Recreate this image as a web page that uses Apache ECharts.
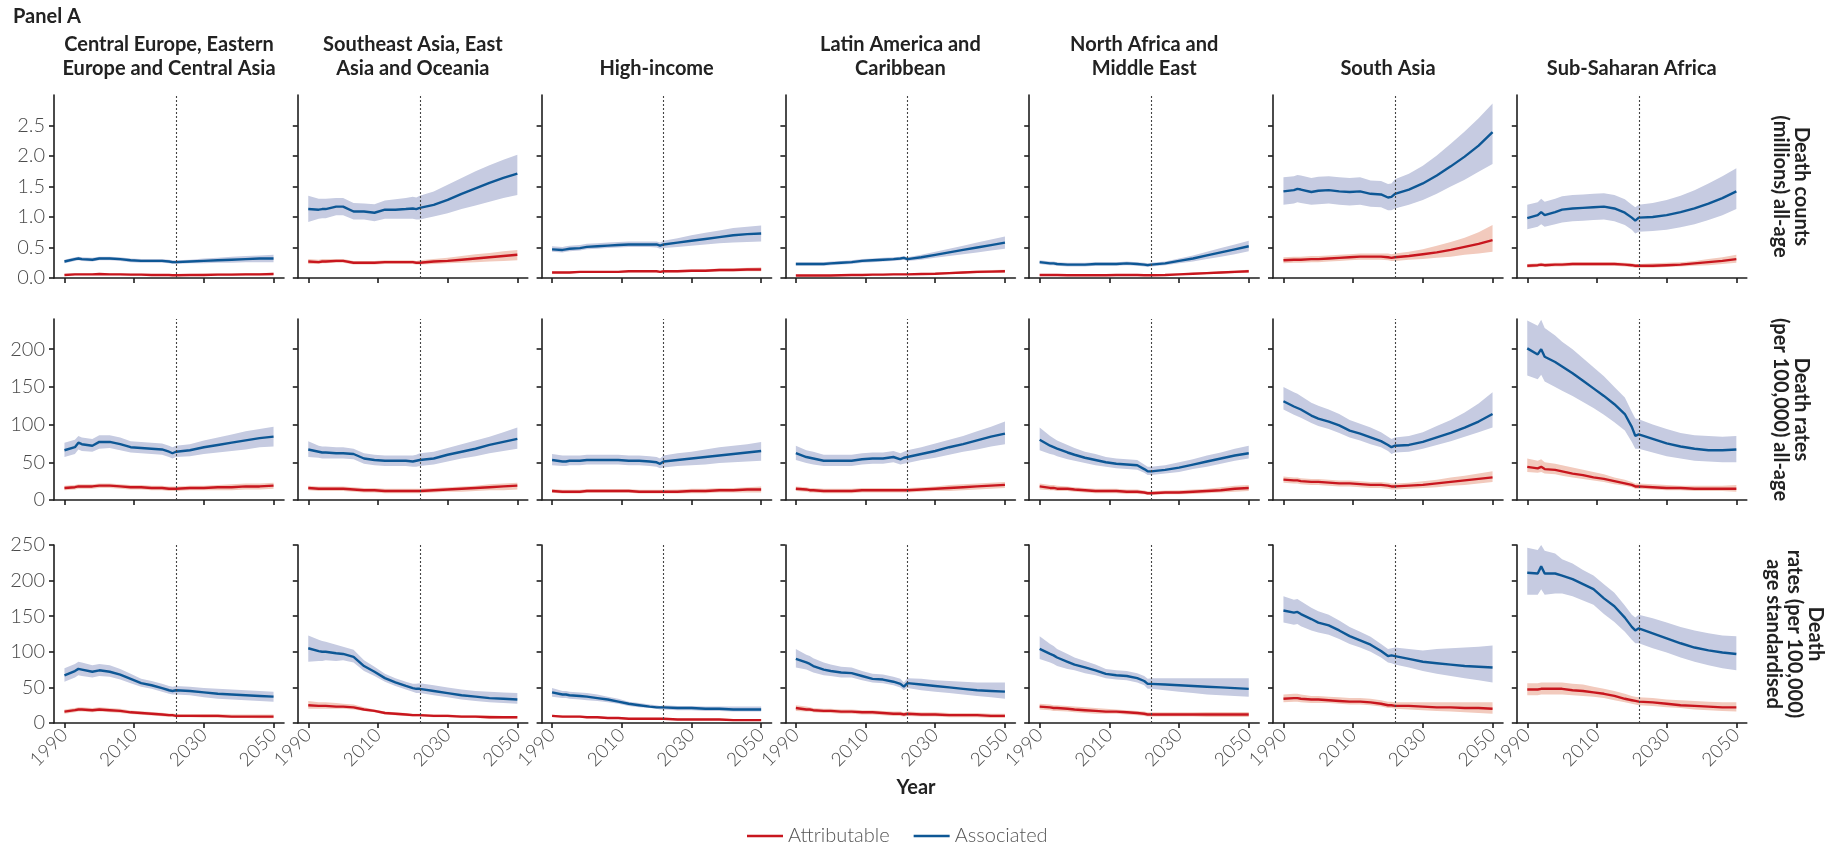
<!DOCTYPE html>
<html><head><meta charset="utf-8">
<script src="https://cdn.jsdelivr.net/npm/echarts@6/dist/echarts.min.js"></script>
<style>html,body{margin:0;padding:0;background:#fff}#c{width:1837px;height:845px}</style>
</head><body><div id="c"></div>
<script>
// ---------------- DATA ----------------
const years = [1990,1993,1994,1995,1998,2000,2003,2006,2009,2012,2015,2018,2020,2021,2022,2026,2030,2034,2038,2042,2046,2050];
const forecastYear = 2022;
const regions = ['Central Europe, Eastern\nEurope and Central Asia','Southeast Asia, East\nAsia and Oceania','High-income','Latin America and\nCaribbean','North Africa and\nMiddle East','South Asia','Sub-Saharan Africa'];
const measureLabels = ['Death counts\n(millions) all-age','Death rates\n(per 100,000) all-age','Death\nrates (per 100,000)\nage standardised'];
const seriesNames = ['Attributable','Associated'];
const xTicks = [1990,2010,2030,2050];
const yTicksCount = [0,0.5,1,1.5,2,2.5];
const yTicksRate = [0,50,100,150,200];
const yTicksAsr = [0,50,100,150,200,250];
const yMaxByRow = [3,240,250];
const xAxisTitle = 'Year';
const panelTitle = 'Panel A';

// Row 1: death counts (millions), all-age
const countAssocMid = [
 [0.27,0.31,0.32,0.31,0.30,0.32,0.32,0.31,0.29,0.28,0.28,0.28,0.27,0.26,0.26,0.27,0.28,0.29,0.30,0.31,0.32,0.32],
 [1.13,1.12,1.13,1.13,1.17,1.17,1.09,1.09,1.07,1.12,1.12,1.13,1.14,1.13,1.15,1.20,1.28,1.38,1.47,1.56,1.64,1.71],
 [0.47,0.46,0.47,0.48,0.49,0.51,0.52,0.53,0.54,0.55,0.55,0.55,0.55,0.53,0.55,0.58,0.61,0.64,0.67,0.70,0.72,0.73],
 [0.23,0.23,0.23,0.23,0.23,0.24,0.25,0.26,0.28,0.29,0.30,0.31,0.32,0.33,0.31,0.34,0.38,0.42,0.46,0.50,0.54,0.58],
 [0.26,0.24,0.24,0.23,0.22,0.22,0.22,0.23,0.23,0.23,0.24,0.23,0.22,0.21,0.22,0.24,0.28,0.32,0.37,0.42,0.47,0.52],
 [1.42,1.44,1.46,1.45,1.41,1.43,1.44,1.42,1.41,1.42,1.38,1.37,1.32,1.33,1.38,1.45,1.55,1.68,1.83,1.99,2.17,2.39],
 [0.98,1.03,1.08,1.03,1.08,1.12,1.14,1.15,1.16,1.17,1.14,1.07,0.99,0.94,0.99,1.00,1.03,1.08,1.14,1.22,1.31,1.42]
];
const countAssocLo = [
 [0.24,0.28,0.29,0.28,0.27,0.29,0.29,0.28,0.26,0.25,0.25,0.25,0.24,0.23,0.23,0.24,0.24,0.25,0.25,0.26,0.26,0.26],
 [0.92,0.97,0.98,0.98,1.03,1.03,0.96,0.96,0.93,0.97,0.97,0.97,0.97,0.96,0.96,1.01,1.06,1.13,1.19,1.25,1.31,1.36],
 [0.43,0.42,0.43,0.44,0.45,0.47,0.48,0.49,0.50,0.51,0.51,0.51,0.50,0.48,0.49,0.51,0.53,0.55,0.57,0.58,0.59,0.60],
 [0.20,0.20,0.20,0.20,0.20,0.21,0.22,0.23,0.25,0.26,0.27,0.28,0.29,0.30,0.28,0.30,0.33,0.36,0.39,0.42,0.45,0.48],
 [0.23,0.21,0.21,0.20,0.19,0.19,0.19,0.20,0.20,0.20,0.21,0.20,0.19,0.18,0.19,0.21,0.24,0.27,0.31,0.35,0.39,0.44],
 [1.20,1.22,1.24,1.23,1.20,1.21,1.22,1.20,1.19,1.20,1.17,1.16,1.11,1.11,1.14,1.20,1.28,1.38,1.50,1.61,1.74,1.87],
 [0.80,0.84,0.88,0.84,0.88,0.91,0.93,0.94,0.95,0.96,0.93,0.87,0.79,0.73,0.76,0.77,0.79,0.83,0.88,0.95,1.03,1.13]
];
const countAssocHi = [
 [0.30,0.34,0.35,0.34,0.33,0.35,0.35,0.34,0.32,0.31,0.31,0.31,0.30,0.29,0.29,0.30,0.32,0.33,0.35,0.36,0.37,0.38],
 [1.35,1.30,1.30,1.30,1.31,1.31,1.23,1.22,1.21,1.27,1.29,1.31,1.33,1.32,1.35,1.42,1.53,1.64,1.75,1.85,1.94,2.02],
 [0.52,0.51,0.52,0.53,0.54,0.56,0.57,0.58,0.59,0.60,0.60,0.60,0.60,0.58,0.61,0.65,0.70,0.74,0.78,0.82,0.84,0.86],
 [0.26,0.26,0.26,0.26,0.26,0.27,0.28,0.29,0.31,0.32,0.33,0.34,0.35,0.36,0.34,0.38,0.43,0.48,0.53,0.58,0.63,0.68],
 [0.29,0.27,0.27,0.26,0.25,0.25,0.25,0.26,0.26,0.26,0.27,0.26,0.25,0.24,0.25,0.27,0.32,0.37,0.43,0.49,0.55,0.61],
 [1.65,1.67,1.69,1.68,1.64,1.66,1.67,1.65,1.64,1.65,1.60,1.59,1.54,1.55,1.62,1.71,1.84,2.01,2.20,2.40,2.62,2.86],
 [1.20,1.24,1.30,1.25,1.30,1.34,1.36,1.37,1.38,1.39,1.36,1.29,1.20,1.16,1.20,1.23,1.28,1.35,1.44,1.55,1.67,1.80]
];
const countAttrMid = [
 [0.05,0.06,0.06,0.06,0.06,0.065,0.06,0.06,0.055,0.055,0.05,0.05,0.05,0.045,0.045,0.05,0.05,0.055,0.055,0.06,0.06,0.065],
 [0.27,0.26,0.27,0.27,0.28,0.28,0.25,0.25,0.25,0.26,0.26,0.26,0.26,0.25,0.25,0.27,0.28,0.30,0.32,0.34,0.36,0.38],
 [0.09,0.09,0.09,0.09,0.10,0.10,0.10,0.10,0.10,0.11,0.11,0.11,0.11,0.10,0.11,0.11,0.12,0.12,0.13,0.13,0.14,0.14],
 [0.04,0.04,0.04,0.04,0.04,0.04,0.045,0.05,0.05,0.055,0.055,0.06,0.06,0.06,0.06,0.065,0.07,0.08,0.09,0.10,0.105,0.11],
 [0.05,0.05,0.05,0.05,0.045,0.045,0.045,0.045,0.045,0.05,0.05,0.05,0.045,0.045,0.045,0.05,0.06,0.07,0.08,0.09,0.10,0.11],
 [0.29,0.30,0.30,0.30,0.31,0.31,0.32,0.33,0.34,0.35,0.35,0.35,0.34,0.33,0.34,0.36,0.39,0.42,0.46,0.51,0.56,0.62],
 [0.20,0.21,0.22,0.21,0.22,0.22,0.23,0.23,0.23,0.23,0.23,0.22,0.21,0.20,0.20,0.20,0.21,0.22,0.24,0.26,0.28,0.31]
];
const countAttrLo = [
 [0.035,0.045,0.045,0.045,0.045,0.05,0.045,0.045,0.04,0.04,0.035,0.035,0.035,0.03,0.03,0.035,0.035,0.04,0.04,0.04,0.04,0.045],
 [0.23,0.23,0.24,0.24,0.25,0.25,0.22,0.22,0.22,0.23,0.23,0.23,0.23,0.22,0.22,0.23,0.24,0.25,0.26,0.27,0.28,0.29],
 [0.075,0.075,0.075,0.075,0.085,0.085,0.085,0.085,0.085,0.095,0.095,0.095,0.095,0.085,0.09,0.09,0.10,0.10,0.105,0.105,0.11,0.11],
 [0.028,0.028,0.028,0.028,0.028,0.028,0.033,0.038,0.038,0.043,0.043,0.048,0.048,0.048,0.046,0.05,0.054,0.062,0.07,0.078,0.082,0.086],
 [0.038,0.038,0.038,0.038,0.033,0.033,0.033,0.033,0.033,0.038,0.038,0.038,0.033,0.033,0.033,0.037,0.045,0.053,0.061,0.069,0.077,0.085],
 [0.24,0.25,0.25,0.25,0.26,0.26,0.27,0.28,0.29,0.30,0.30,0.30,0.29,0.28,0.28,0.30,0.31,0.33,0.35,0.38,0.40,0.43],
 [0.17,0.18,0.19,0.18,0.19,0.19,0.20,0.20,0.20,0.20,0.20,0.19,0.18,0.17,0.17,0.17,0.18,0.19,0.20,0.21,0.23,0.25]
];
const countAttrHi = [
 [0.065,0.075,0.075,0.075,0.075,0.08,0.075,0.075,0.07,0.07,0.065,0.065,0.065,0.06,0.06,0.065,0.068,0.073,0.075,0.08,0.083,0.088],
 [0.31,0.30,0.31,0.31,0.31,0.31,0.28,0.28,0.28,0.29,0.29,0.29,0.29,0.28,0.29,0.31,0.33,0.36,0.39,0.41,0.44,0.46],
 [0.105,0.105,0.105,0.105,0.115,0.115,0.115,0.115,0.115,0.125,0.125,0.125,0.125,0.115,0.13,0.13,0.14,0.145,0.155,0.16,0.17,0.175],
 [0.052,0.052,0.052,0.052,0.052,0.052,0.057,0.062,0.062,0.067,0.067,0.072,0.072,0.072,0.074,0.08,0.088,0.1,0.112,0.124,0.13,0.136],
 [0.062,0.062,0.062,0.062,0.057,0.057,0.057,0.057,0.057,0.062,0.062,0.062,0.057,0.057,0.057,0.063,0.075,0.088,0.1,0.112,0.124,0.136],
 [0.34,0.35,0.35,0.35,0.36,0.36,0.37,0.38,0.39,0.40,0.40,0.40,0.40,0.39,0.40,0.43,0.47,0.53,0.59,0.66,0.75,0.87],
 [0.23,0.24,0.25,0.24,0.25,0.25,0.26,0.26,0.26,0.26,0.26,0.25,0.24,0.23,0.23,0.24,0.25,0.26,0.28,0.31,0.34,0.38]
];

// Row 2: death rates per 100,000, all-age
const rateAssocMid = [
 [66,70,76,74,72,77,77,74,70,69,68,67,64,62,64,66,70,73,76,79,82,84],
 [67,64,63,63,62,62,61,55,53,52,52,52,51,52,53,55,60,64,68,73,77,81],
 [53,51,51,52,52,53,53,53,53,52,52,51,50,48,51,53,55,57,59,61,63,65],
 [62,57,56,55,52,52,52,52,54,55,55,57,54,56,57,61,65,70,74,79,84,88],
 [80,72,70,68,63,60,56,53,50,48,47,46,41,38,38,40,43,47,51,55,59,62],
 [131,124,122,120,112,108,104,99,92,88,83,78,73,70,72,73,77,83,89,96,104,114],
 [201,193,200,190,183,177,168,158,148,138,127,114,97,85,87,81,75,71,68,66,66,67]
];
const rateAssocLo = [
 [57,61,67,65,64,68,69,66,63,62,61,60,57,55,57,58,61,63,65,67,70,71],
 [57,56,55,55,55,55,54,48,46,45,45,45,44,44,45,47,51,55,58,62,65,68],
 [46,45,45,46,46,47,47,47,47,46,46,45,44,42,43,45,46,47,49,50,51,52],
 [53,49,48,47,45,45,45,45,47,48,48,50,47,48,49,53,56,60,64,67,71,74],
 [66,61,60,58,54,52,49,46,44,42,41,40,36,33,33,35,37,41,44,48,52,55],
 [120,113,111,109,102,98,94,89,83,79,74,70,65,61,63,64,68,73,78,84,90,96],
 [165,160,166,157,150,145,138,130,122,113,103,92,77,68,68,63,58,55,52,51,50,50]
];
const rateAssocHi = [
 [76,80,85,83,81,86,86,83,78,77,76,75,72,70,72,74,79,83,87,91,94,97],
 [78,72,71,71,70,70,68,62,60,59,59,59,59,60,62,64,69,74,79,84,90,96],
 [61,59,59,59,59,60,60,60,60,59,59,58,57,55,59,62,64,67,70,72,74,77],
 [72,66,65,64,60,60,60,60,62,63,63,65,62,64,66,70,75,80,85,91,97,104],
 [96,85,82,79,73,69,64,61,57,55,54,53,47,44,44,46,50,54,59,63,68,72],
 [150,143,141,138,129,125,120,114,106,101,96,90,84,81,83,85,90,98,106,116,128,143],
 [238,231,239,228,218,210,200,188,176,164,150,136,117,108,107,100,94,89,86,85,84,85]
];
const rateAttrMid = [
 [16,17,18,18,18,19,19,18,17,17,16,16,15,15,15,16,16,17,17,18,18,19],
 [16,15,15,15,15,15,14,13,13,12,12,12,12,12,12,13,14,15,16,17,18,19],
 [12,11,11,11,11,12,12,12,12,12,11,11,11,11,11,11,12,12,13,13,14,14],
 [15,14,13,13,12,12,12,12,13,13,13,13,13,13,13,14,15,16,17,18,19,20],
 [18,16,16,15,15,14,13,12,12,12,11,11,10,9,9,10,10,11,12,13,15,16],
 [27,26,26,25,24,24,23,22,22,21,20,20,19,18,18,19,20,22,24,26,28,30],
 [44,42,44,41,40,38,35,33,30,28,25,22,20,18,18,17,16,16,15,15,15,15]
];
const rateAttrLo = [
 [13,14,15,15,15,16,16,15,14,14,13,13,12,12,12,13,13,13,13,14,14,15],
 [13,12,12,12,12,12,11,10,10,9,9,9,9,9,9,10,11,11,12,13,13,14],
 [9.5,8.5,8.5,8.5,8.5,9.5,9.5,9.5,9.5,9.5,8.5,8.5,8.5,8.5,8.5,8.5,9,9,10,10,10,10],
 [12,11,10,10,9,9,9,9,10,10,10,10,10,10,10,11,12,12,13,14,15,16],
 [14,13,13,12,12,11,10,9,9,9,8,8,7.5,6.5,6.5,7.5,7.5,8,9,10,11,12],
 [23,22,22,21,20,20,19,18,18,17,16,16,15,14,14,15,16,17,19,20,22,24],
 [37,36,37,35,34,32,30,28,26,24,21,19,17,15,15,14,13,13,12,12,12,11]
];
const rateAttrHi = [
 [19,20,21,21,21,22,22,21,20,20,19,19,18,18,18,19,19,20,21,22,22,23],
 [19,18,18,18,18,18,17,16,16,15,15,15,15,15,15,16,17,18,19,21,22,23],
 [14.5,13.5,13.5,13.5,13.5,14.5,14.5,14.5,14.5,14.5,13.5,13.5,13.5,13.5,13.5,14,15,15,16,16,17,18],
 [18,17,16,16,15,15,15,15,16,16,16,16,16,16,16,17,18,20,21,22,23,24],
 [22,20,20,19,18,17,16,15,15,15,14,14,12.5,11.5,11.5,12.5,13,14,15,17,19,20],
 [31,30,30,29,28,28,27,26,26,25,24,24,23,22,22,23,25,27,30,32,35,38],
 [55,52,54,50,48,46,43,40,37,34,30,27,24,22,22,21,20,19,19,19,19,20]
];

// Row 3: death rates per 100,000, age standardised
const asrAssocMid = [
 [67,73,76,75,72,74,72,68,62,56,53,49,46,45,46,45,43,41,40,39,38,37],
 [105,101,100,100,98,97,93,80,72,63,57,52,49,48,48,45,42,39,37,35,34,33],
 [43,40,40,39,38,37,35,33,30,27,25,23,22,22,22,21,21,20,20,19,19,19],
 [90,85,83,80,75,73,71,70,66,62,61,58,55,51,56,54,52,50,48,46,45,44],
 [104,97,95,92,86,82,78,74,69,67,66,63,59,55,55,54,53,52,51,50,49,48],
 [158,155,156,153,146,141,137,130,122,116,110,101,94,95,94,90,86,84,82,80,79,78],
 [211,210,220,210,210,207,202,195,188,175,164,148,135,130,133,126,119,112,106,102,99,97]
];
const asrAssocLo = [
 [58,64,67,66,64,66,65,61,56,51,48,44,41,40,40,39,36,34,33,32,31,30],
 [86,87,87,88,87,88,85,73,66,58,52,47,44,42,42,39,36,33,31,29,28,27],
 [37,35,35,34,33,32,31,29,27,24,22,21,20,19,19,18,18,17,17,16,16,16],
 [78,75,73,71,67,66,64,64,60,57,56,53,50,46,49,46,44,42,40,38,36,34],
 [90,85,83,80,76,74,70,67,63,61,60,57,53,48,48,46,44,42,40,39,38,37],
 [141,138,139,136,130,127,124,118,111,106,100,92,85,84,82,78,73,69,66,63,60,57],
 [180,180,188,180,182,182,178,172,166,153,142,128,117,112,112,105,99,92,86,81,77,74]
];
const asrAssocHi = [
 [77,83,86,85,81,83,81,76,69,62,59,55,52,51,52,51,49,48,47,46,45,44],
 [123,117,115,114,110,107,103,88,79,69,63,58,55,55,56,53,50,47,45,44,43,42],
 [49,45,45,44,43,42,40,37,34,30,28,26,25,24,25,24,24,23,23,23,23,23],
 [104,96,94,91,85,82,79,78,73,69,68,65,62,57,63,62,60,59,58,57,57,57],
 [122,111,108,104,97,92,87,82,76,74,73,70,66,62,63,63,63,63,63,63,63,63],
 [178,173,174,171,162,157,152,144,135,128,121,111,104,105,106,104,102,104,105,106,107,109],
 [246,243,250,242,238,230,224,215,207,195,183,165,152,148,152,147,141,135,130,126,123,122]
];
const asrAttrMid = [
 [16,18,19,19,18,19,18,17,15,14,13,12,11,11,10,10,10,10,9,9,9,9],
 [25,24,24,24,23,23,22,19,17,14,13,12,11,11,11,10,10,9,9,8,8,8],
 [10,9,9,9,9,8,8,7,7,6,6,6,6,6,6,5,5,5,5,4,4,4],
 [21,19,19,18,17,17,16,16,15,15,14,13,13,12,13,12,12,11,11,11,10,10],
 [23,22,21,21,20,19,18,17,16,16,15,14,13,12,12,12,12,12,12,12,12,12],
 [34,35,35,34,33,33,32,31,30,30,29,27,25,25,24,24,23,22,22,21,21,20],
 [47,47,48,48,48,48,46,45,43,41,38,34,32,31,30,29,27,25,24,23,22,22]
];
const asrAttrLo = [
 [13,15,16,16,15,16,15,14,12.5,11.5,10.5,9.5,8.5,8.5,8,8,7.5,7.5,7,7,6.5,6.5],
 [20,20,20,20,20,20,19,17,15,12,11,10,9,9,9,8,8,7,7,6,6,6],
 [8.5,7.5,7.5,7.5,7.5,6.5,6.5,5.5,5.5,4.8,4.8,4.8,4.8,4.8,4.8,3.8,3.8,3.8,3.8,3,3,3],
 [17,16,16,15,14,14,13,13,12,12,11,10,10,9,10,9,9,8,8,8,7,7],
 [19,18,17,17,16,15,14,13,13,13,12,11,10,9,9,9,9,9,8.5,8.5,8.5,8.5],
 [29,30,30,29,28,28,28,27,26,26,25,23,21,21,20,19,18,17,16,15,14,13],
 [39,39,40,40,40,40,39,38,37,35,32,29,27,26,25,24,22,21,19,18,17,16]
];
const asrAttrHi = [
 [19,21,22,22,21,22,21,20,17.5,16.5,15.5,14.5,13.5,13.5,12.5,12.5,12.5,12.5,12,12,12,12],
 [31,29,29,29,28,27,26,22,19,16,15,14,13,13,13,12,12,11,11,11,10,10],
 [11.5,10.5,10.5,10.5,10.5,9.5,9.5,8.5,8.5,7.2,7.2,7.2,7.2,7.2,7.2,6.2,6.2,6.2,6.2,5.5,5.5,5.5],
 [25,23,22,21,20,20,19,19,18,18,17,16,16,15,16,15,15,14,14,14,13,13],
 [27,26,25,25,24,23,22,21,20,19,18,17,16,15,15,15,15,15,15.5,15.5,15.5,15.5],
 [40,41,41,40,38,38,37,36,35,35,34,32,30,30,29,29,29,29,29,29,29,29],
 [56,56,57,57,57,57,55,54,51,48,45,41,38,37,36,35,33,32,31,30,29,29]
];

// ---------------- CHART ----------------
const FONT = 'Lato, "Open Sans", "DejaVu Sans", sans-serif';
const C_ATTR = '#c8161e', C_ATTR_BAND = '#f2cabd';
const C_ASSOC = '#0d5795', C_ASSOC_BAND = '#c6cbe1';
const AXIS_COLOR = '#1e1e1e', LABEL_COLOR = '#4a4a4a', TITLE_COLOR = '#222';

const rows = [
  {am: countAssocMid, al: countAssocLo, ah: countAssocHi, tm: countAttrMid, tl: countAttrLo, th: countAttrHi, ticks: yTicksCount, fmt: v => Number(v).toFixed(1)},
  {am: rateAssocMid, al: rateAssocLo, ah: rateAssocHi, tm: rateAttrMid, tl: rateAttrLo, th: rateAttrHi, ticks: yTicksRate, fmt: v => String(v)},
  {am: asrAssocMid, al: asrAssocLo, ah: asrAssocHi, tm: asrAttrMid, tl: asrAttrLo, th: asrAttrHi, ticks: yTicksAsr, fmt: v => String(v)}
];

const gridLeft0 = 54, gridPitch = 243.8, gridW = 230;
const rowTop = [95, 319, 545], rowH = [183, 181, 178];

const grid = [], xAxis = [], yAxis = [], series = [];

function bandRenderer(lo, hi, color) {
  return function (params, api) {
    const pts = [];
    for (let i = 0; i < years.length; i++) pts.push(api.coord([years[i], hi[i]]));
    for (let i = years.length - 1; i >= 0; i--) pts.push(api.coord([years[i], lo[i]]));
    return {type: 'polygon', shape: {points: pts}, style: {fill: color}, silent: true};
  };
}

for (let r = 0; r < 3; r++) {
  const row = rows[r];
  for (let c = 0; c < 7; c++) {
    const g = r * 7 + c;
    grid.push({left: gridLeft0 + c * gridPitch, top: rowTop[r], width: gridW, height: rowH[r], containLabel: false});
    xAxis.push({
      type: 'value', gridIndex: g, min: 1987, max: 2053,
      axisLine: {show: true, onZero: false, lineStyle: {color: AXIS_COLOR, width: 1.6}},
      axisTick: {show: true, length: 5, customValues: xTicks, lineStyle: {color: AXIS_COLOR, width: 1.6}},
      axisLabel: {show: r === 2, customValues: xTicks, rotate: 45, margin: 9, color: LABEL_COLOR,
                  fontSize: 19, fontWeight: 300, fontFamily: FONT, formatter: v => String(v)},
      splitLine: {show: false}
    });
    yAxis.push({
      type: 'value', gridIndex: g, min: 0, max: yMaxByRow[r],
      axisLine: {show: true, onZero: false, lineStyle: {color: AXIS_COLOR, width: 1.6}},
      axisTick: {show: true, length: 5, customValues: row.ticks, lineStyle: {color: AXIS_COLOR, width: 1.6}},
      axisLabel: {show: c === 0, customValues: row.ticks, margin: 9, color: LABEL_COLOR,
                  fontSize: 20, fontWeight: 300, fontFamily: FONT, formatter: row.fmt},
      splitLine: {show: false}
    });
    const toPts = arr => years.map((y, i) => [y, arr[i]]);
    series.push({type: 'custom', name: 'band-assoc', xAxisIndex: g, yAxisIndex: g, z: 1,
      renderItem: bandRenderer(row.al[c], row.ah[c], C_ASSOC_BAND), data: [[years[0], row.am[c][0]]], silent: true});
    series.push({type: 'custom', name: 'band-attr', xAxisIndex: g, yAxisIndex: g, z: 1,
      renderItem: bandRenderer(row.tl[c], row.th[c], C_ATTR_BAND), data: [[years[0], row.tm[c][0]]], silent: true});
    series.push({type: 'line', name: seriesNames[0], xAxisIndex: g, yAxisIndex: g, z: 3,
      data: toPts(row.tm[c]), showSymbol: false, symbol: 'none',
      lineStyle: {color: C_ATTR, width: 2.4}, itemStyle: {color: C_ATTR}, silent: true});
    series.push({type: 'line', name: seriesNames[1], xAxisIndex: g, yAxisIndex: g, z: 3,
      data: toPts(row.am[c]), showSymbol: false, symbol: 'none',
      lineStyle: {color: C_ASSOC, width: 2.4}, itemStyle: {color: C_ASSOC}, silent: true,
      markLine: {silent: true, symbol: ['none', 'none'], label: {show: false},
        lineStyle: {color: '#444', type: [2, 2], width: 1.1}, emphasis: {disabled: true},
        data: [{xAxis: forecastYear}]}});
  }
}

const graphic = [];
function txt(x, y, text, opts) {
  const o = Object.assign({align: 'center', vAlign: 'middle', size: 20, weight: 'bold', color: TITLE_COLOR, lh: 24, rot: 0}, opts || {});
  graphic.push({type: 'text', x: x, y: y, rotation: o.rot, silent: true,
    style: {text: text, fill: o.color, font: o.weight + ' ' + o.size + 'px ' + FONT,
      fontSize: o.size, fontWeight: o.weight, fontFamily: FONT, lineHeight: o.lh,
      align: o.align, textAlign: o.align, verticalAlign: o.vAlign, textVerticalAlign: o.vAlign}});
}
txt(13, 5, panelTitle, {align: 'left', vAlign: 'top', size: 20});
for (let c = 0; c < 7; c++) {
  txt(gridLeft0 + c * gridPitch + gridW / 2, 81, regions[c], {vAlign: 'bottom', size: 20, lh: 24});
}
const rowCenters = [rowTop[0] + rowH[0] / 2, rowTop[1] + rowH[1] / 2, rowTop[2] + rowH[2] / 2];
const rowLabelX = [1791, 1791, 1794];
for (let r = 0; r < 3; r++) {
  txt(rowLabelX[r], rowCenters[r], measureLabels[r], {rot: -Math.PI / 2, size: 20, lh: 21});
}
txt(916, 788, xAxisTitle, {size: 20});

const chart = echarts.init(document.getElementById('c'), null, {renderer: 'canvas'});
chart.setOption({
  animation: false,
  backgroundColor: '#fff',
  grid: grid, xAxis: xAxis, yAxis: yAxis, series: series, graphic: graphic,
  legend: {data: seriesNames, left: 742, top: 821, icon: 'rect', itemWidth: 36, itemHeight: 2.4, itemGap: 24,
    selectedMode: false,
    textStyle: {fontSize: 20, color: '#555', fontWeight: 300, fontFamily: FONT}}
});
</script></body></html>
